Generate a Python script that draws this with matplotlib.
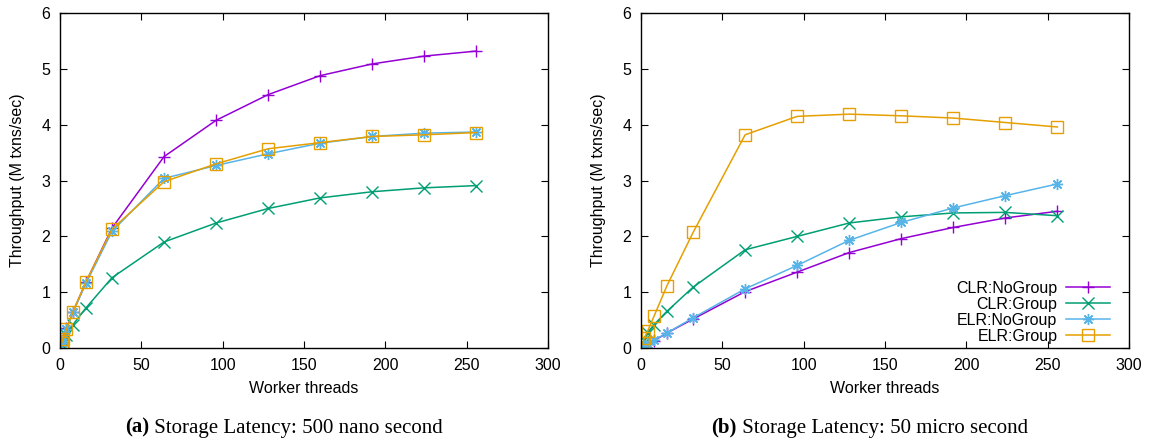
#!/usr/bin/env python3
# -*- coding: utf-8 -*-
import numpy as np
import matplotlib
matplotlib.use("Agg")
import matplotlib.pyplot as plt

plt.rcParams['font.family'] = ['Liberation Sans', 'DejaVu Sans']
plt.rcParams['font.size'] = 11.5

# Worker thread counts used in both runs
threads = [1, 2, 4, 8, 16, 32, 64, 96, 128, 160, 192, 224, 256]

# (a) storage latency 500 ns, throughput in M txns/sec
clr_nogroup_a = [0.09, 0.18, 0.35, 0.65, 1.18, 2.15, 3.43, 4.08, 4.54, 4.88, 5.09, 5.23, 5.32]
clr_group_a = [0.06, 0.12, 0.23, 0.42, 0.72, 1.26, 1.90, 2.24, 2.50, 2.69, 2.80, 2.87, 2.91]
elr_nogroup_a = [0.09, 0.17, 0.34, 0.64, 1.16, 2.09, 3.04, 3.27, 3.48, 3.67, 3.79, 3.85, 3.87]
elr_group_a = [0.09, 0.17, 0.34, 0.65, 1.19, 2.13, 2.98, 3.30, 3.57, 3.68, 3.79, 3.82, 3.86]

# (b) storage latency 50 us
clr_nogroup_b = [0.02, 0.03, 0.07, 0.13, 0.27, 0.52, 1.01, 1.36, 1.71, 1.96, 2.16, 2.33, 2.45]
clr_group_b = [0.08, 0.15, 0.27, 0.42, 0.66, 1.09, 1.76, 2.00, 2.24, 2.35, 2.42, 2.43, 2.37]
elr_nogroup_b = [0.02, 0.04, 0.07, 0.14, 0.27, 0.54, 1.06, 1.48, 1.93, 2.25, 2.51, 2.73, 2.94]
elr_group_b = [0.09, 0.18, 0.30, 0.57, 1.12, 2.07, 3.82, 4.15, 4.19, 4.16, 4.12, 4.04, 3.96]

labels = ["CLR:NoGroup", "CLR:Group", "ELR:NoGroup", "ELR:Group"]
colors = ["#9400d3", "#009e73", "#56b4e9", "#e69f00"]
markers = ["+", "x", (8, 2, 0), "s"]

captions = [("(a)", " Storage Latency: 500 nano second"),
            ("(b)", " Storage Latency: 50 micro second")]

runs = [[clr_nogroup_a, clr_group_a, elr_nogroup_a, elr_group_a],
        [clr_nogroup_b, clr_group_b, elr_nogroup_b, elr_group_b]]

fig = plt.figure(figsize=(11.49, 4.43), dpi=100)
lefts = [0.0522, 0.5579]
width = 0.4247
cap_centres = [0.247, 0.757]   # captions sit centred on each subfigure
serif = ['Liberation Serif', 'DejaVu Serif']

for k, series in enumerate(runs):
    ax = fig.add_axes([lefts[k], 0.2144, width, 0.756])
    for y, lab, c, mk in zip(series, labels, colors, markers):
        ax.plot(threads, y, color=c, marker=mk, markersize=8, linewidth=1.1,
                markerfacecolor="none", markeredgewidth=1.0, label=lab)
    ax.set_xlim(0, 300)
    ax.set_ylim(0, 6)
    ax.set_xticks(np.arange(0, 301, 50))
    ax.set_yticks(np.arange(0, 7, 1))
    ax.tick_params(direction="in", length=5, top=True, right=True, labelsize=11.5, pad=7)
    ax.set_xlabel("Worker threads", fontsize=11.5, labelpad=6)
    ax.set_ylabel("Throughput (M txns/sec)", fontsize=11.5, labelpad=12)
    for s in ax.spines.values():
        s.set_linewidth(1.0)

    if k == 1:
        ax.legend(loc="lower right", frameon=False, markerfirst=False,
                  handlelength=2.75, handletextpad=0.55, labelspacing=0.07,
                  fontsize=11.5, borderpad=0.0, borderaxespad=0.0,
                  bbox_to_anchor=(0.961, 0.012))

    # caption under each panel: bold tag, then plain text, centred as one line
    cx = cap_centres[k]
    bold, rest = captions[k]
    t1 = fig.text(cx, 0.023, bold, family=serif, fontsize=15,
                  fontweight="bold", ha="left", va="baseline")
    t2 = fig.text(cx, 0.023, rest, family=serif, fontsize=15,
                  ha="left", va="baseline")
    fig.canvas.draw()
    w1 = t1.get_window_extent().width / fig.bbox.width
    w2 = t2.get_window_extent().width / fig.bbox.width
    x0 = cx - (w1 + w2) / 2
    t1.set_x(x0)
    t2.set_x(x0 + w1)

fig.savefig("out.png", dpi=100)
